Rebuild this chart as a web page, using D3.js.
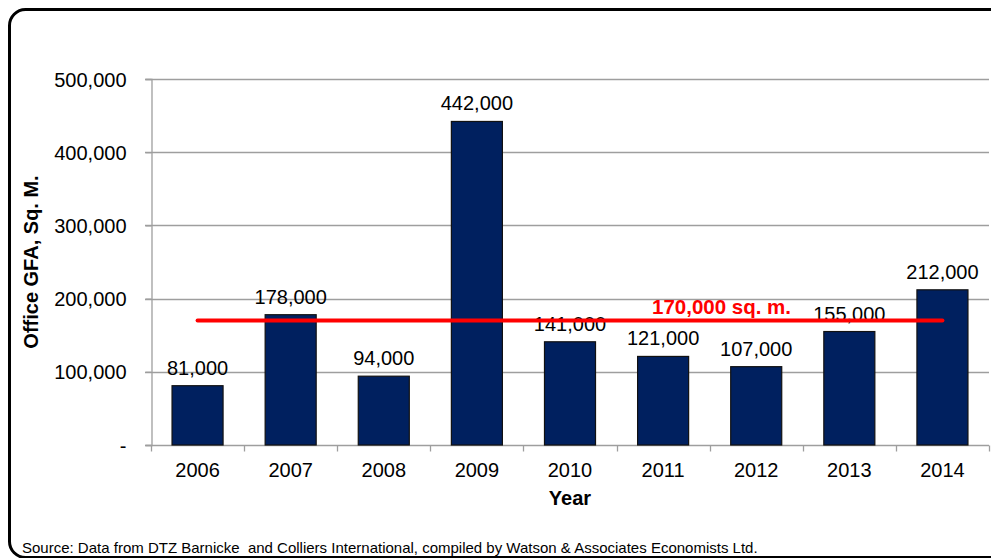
<!DOCTYPE html>
<html>
<head>
<meta charset="utf-8">
<script src="https://cdn.jsdelivr.net/npm/d3@7"></script>
<style>
  html, body { margin: 0; padding: 0; background: #fff; }
  svg { display: block; font-family: "Liberation Sans", Arial, sans-serif; }
</style>
</head>
<body>
<svg id="chart" width="991" height="558"></svg>
<script>
// Office floor area added per year (sq. m.)
const years = ["2006", "2007", "2008", "2009", "2010", "2011", "2012", "2013", "2014"];
const gfaValues = [81000, 178000, 94000, 442000, 141000, 121000, 107000, 155000, 212000];
const averageValue = 170000;
const averageLabel = "170,000 sq. m.";
const yTickValues = [0, 100000, 200000, 300000, 400000, 500000];
const yAxisTitle = "Office GFA, Sq. M.";
const xAxisTitle = "Year";
const sourceNote = "Source: Data from DTZ Barnicke  and Colliers International, compiled by Watson & Associates Economists Ltd.";

const svg = d3.select("#chart");
const plot = { left: 151, right: 989, top: 79, bottom: 445 };

// Rounded frame around the chart (runs off the right/bottom edge)
svg.append("rect")
  .attr("x", 9.5).attr("y", 9.5)
  .attr("width", 1010).attr("height", 548)
  .attr("rx", 16).attr("ry", 16)
  .attr("fill", "#fff")
  .attr("stroke", "#000")
  .attr("stroke-width", 3);

const x = d3.scaleBand()
  .domain(years)
  .range([plot.left, plot.right])
  .paddingInner(0.452)
  .paddingOuter(0.226);

const y = d3.scaleLinear()
  .domain([0, 500000])
  .range([plot.bottom, plot.top]);

const fmt = d3.format(",");

// Horizontal gridlines
svg.append("g")
  .selectAll("line")
  .data(yTickValues)
  .join("line")
  .attr("x1", plot.left - 6)
  .attr("x2", plot.right)
  .attr("y1", d => Math.round(y(d)) + 0.5)
  .attr("y2", d => Math.round(y(d)) + 0.5)
  .attr("stroke", "#9e9e9e")
  .attr("stroke-width", 1.3);

// Y axis
const yAxis = svg.append("g")
  .attr("transform", `translate(${plot.left + 0.5},0)`)
  .call(d3.axisLeft(y)
    .tickValues(yTickValues)
    .tickSize(6)
    .tickPadding(19)
    .tickFormat(d => d === 0 ? "-" : fmt(d)));
yAxis.select(".domain").attr("stroke", "#9e9e9e").attr("stroke-width", 1.3);
yAxis.selectAll(".tick line").attr("stroke", "#9e9e9e").attr("stroke-width", 1.3);
yAxis.selectAll(".tick text")
  .attr("font-size", 20)
  .attr("fill", "#000")
  .attr("dy", "0.35em")
  .attr("font-family", "'Liberation Sans', Arial, sans-serif");

// X axis with ticks between categories
const xAxisG = svg.append("g")
  .attr("transform", `translate(0,${Math.round(plot.bottom) + 0.5})`);
const boundaries = d3.range(years.length + 1).map(i => plot.left + i * x.step());
xAxisG.selectAll("line.tk")
  .data(boundaries)
  .join("line")
  .attr("class", "tk")
  .attr("x1", d => Math.round(d) + 0.5)
  .attr("x2", d => Math.round(d) + 0.5)
  .attr("y1", 0).attr("y2", 6)
  .attr("stroke", "#9e9e9e")
  .attr("stroke-width", 1.3);
xAxisG.selectAll("text")
  .data(years)
  .join("text")
  .attr("x", d => x(d) + x.bandwidth() / 2)
  .attr("y", 31)
  .attr("text-anchor", "middle")
  .attr("font-size", 20)
  .attr("fill", "#000")
  .text(d => d);

// Bars
const data = years.map((yr, i) => ({ year: yr, value: gfaValues[i] }));
svg.append("g")
  .selectAll("rect")
  .data(data)
  .join("rect")
  .attr("x", d => x(d.year))
  .attr("y", d => y(d.value))
  .attr("width", x.bandwidth())
  .attr("height", d => y(0) - y(d.value))
  .attr("fill", "#00205f")
  .attr("stroke", "#111")
  .attr("stroke-width", 1.2);

// Value labels above bars
svg.append("g")
  .selectAll("text")
  .data(data)
  .join("text")
  .attr("x", d => x(d.year) + x.bandwidth() / 2)
  .attr("y", d => y(d.value) - 11)
  .attr("text-anchor", "middle")
  .attr("font-size", 20)
  .attr("fill", "#000")
  .text(d => fmt(d.value));

// Average reference line
svg.append("line")
  .attr("x1", x(years[0]) + x.bandwidth() / 2)
  .attr("x2", x(years[years.length - 1]) + x.bandwidth() / 2)
  .attr("y1", y(averageValue))
  .attr("y2", y(averageValue))
  .attr("stroke", "#ff0000")
  .attr("stroke-width", 4)
  .attr("stroke-linecap", "round");

svg.append("text")
  .attr("x", 652)
  .attr("y", y(averageValue) - 7)
  .attr("font-size", 20.5)
  .attr("font-weight", "bold")
  .attr("fill", "#ff0000")
  .text(averageLabel);

// Axis titles
svg.append("text")
  .attr("transform", `translate(38,${(172 + 352) / 2}) rotate(-90)`)
  .attr("text-anchor", "middle")
  .attr("font-size", 20)
  .attr("font-weight", "bold")
  .attr("fill", "#000")
  .text(yAxisTitle);

svg.append("text")
  .attr("x", (plot.left + plot.right) / 2)
  .attr("y", 505)
  .attr("text-anchor", "middle")
  .attr("font-size", 20)
  .attr("font-weight", "bold")
  .attr("fill", "#000")
  .text(xAxisTitle);

// Source note
svg.append("text")
  .attr("x", 22)
  .attr("y", 553)
  .attr("font-size", 15)
  .attr("fill", "#000")
  .style("white-space", "pre")
  .text(sourceNote);
</script>
</body>
</html>
